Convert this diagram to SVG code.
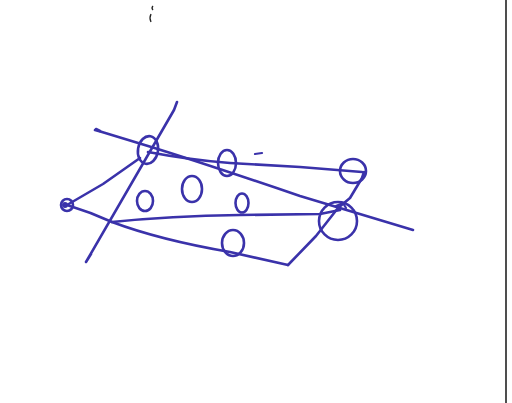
<svg xmlns="http://www.w3.org/2000/svg" width="512" height="403" viewBox="0 0 512 403">
<style>
.ink{fill:none;stroke:#3a32aa;stroke-width:2.6;stroke-linecap:round;stroke-linejoin:round}
.thin{stroke-width:2.2}
</style>
<rect width="512" height="403" fill="#ffffff"/>
<line x1="506" y1="0" x2="506" y2="403" stroke="#222" stroke-width="1.6"/>
<path d="M153 6 q-2 2 0 4 M151 14 q-2 4 0 8" fill="none" stroke="#222" stroke-width="1.3"/>
<g id="connectors">
<path class="ink" d="M95 130 L102 132 L148 146 Q200 162 300 196 L413 230"/>
<path class="ink" d="M96 129 L100 131" stroke-width="4.5"/>
<path class="ink" d="M148 152 Q190 160 230 163 L300 167 L362 172"/>
<path class="ink" d="M177 102 L174 110 L86 262 L91 254"/>
<path class="ink" d="M67 205 L103 184 L140 158"/>
<path class="ink" d="M67 205 Q90 212 112 222 Q160 240 230 252 L288 265"/>
<path class="ink" d="M112 222 Q170 216 240 215 L320 214 L340 210"/>
<path class="ink" d="M288 265 L316 236 L338 208 L350 198 L362 178 L364 172"/>
<path class="ink thin" d="M336 206 L343 203 L346 208"/>
<path class="ink thin" d="M255 154 L262 153"/>
</g>
<g id="n1"><ellipse class="ink" cx="148" cy="150" rx="10" ry="14" transform="rotate(10 148 150)"/></g>
<g id="n2"><ellipse class="ink" cx="227" cy="163" rx="9" ry="13"/></g>
<g id="n3"><ellipse class="ink" cx="353" cy="171" rx="13" ry="12"/></g>
<g id="n4"><ellipse class="ink" cx="338" cy="221" rx="19" ry="19"/></g>
<g id="n5"><ellipse class="ink" cx="145" cy="201" rx="8" ry="10"/></g>
<g id="n6"><ellipse class="ink" cx="192" cy="189" rx="10" ry="13"/></g>
<g id="n7"><ellipse class="ink" cx="242" cy="203" rx="6.5" ry="9.5"/></g>
<g id="n8"><ellipse class="ink" cx="233" cy="243" rx="11" ry="13"/></g>
<g id="n9"><circle class="ink" cx="67" cy="205" r="6"/><circle cx="65" cy="205" r="3" fill="#3a32aa"/></g>
</svg>
